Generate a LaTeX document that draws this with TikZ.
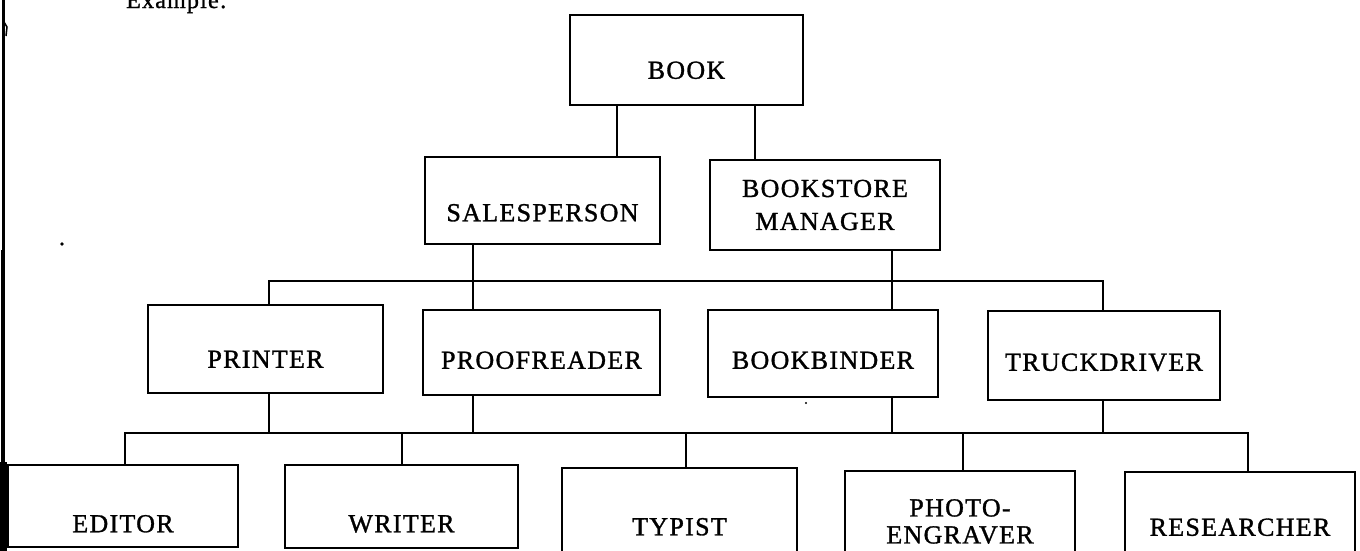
\documentclass[tikz,border=0pt]{standalone}
\usepackage{fontspec}
\setmainfont{Liberation Serif}[LetterSpace=5,FakeBold=1.2]
\begin{document}
\begin{tikzpicture}[x=1pt,y=-1pt,
  box/.style={draw, line width=2.6pt, inner sep=0pt, font=\fontsize{26}{33}\selectfont},
  wire/.style={line width=2.5pt}]
\useasboundingbox (0,0) rectangle (1360,550);
% scan edge
\draw[line width=2.5pt] (3.5,-2) -- (3.5,252);
\draw[line width=4pt] (3,250) -- (3,463);
\fill (0,462) rectangle (7,552);
\draw[line width=1.5pt] (4,22) -- (7,27) -- (6,36);
\fill (62,244) circle (1.8);
\fill (806,403) circle (1.2);
% partial heading
\node[anchor=base west, inner sep=0pt, font=\fontsize{24}{28}\selectfont] (ex) at (126,8) {Example:};
% boxes
\node[box, minimum width=233pt, minimum height=90pt, text height=37.5pt, text depth=0pt] (book) at (686.5,60) {BOOK};
\node[box, minimum width=235pt, minimum height=87pt, text height=41.5pt, text depth=0pt] (sales) at (542.5,200.5) {SALESPERSON};
\node[box, minimum width=230pt, minimum height=90pt, align=center] (bsm) at (825,205) {BOOKSTORE\\MANAGER};
\node[box, minimum width=235pt, minimum height=88pt, text height=37.5pt, text depth=0pt] (printer) at (265.5,349) {PRINTER};
\node[box, minimum width=237pt, minimum height=85pt, text height=32.5pt, text depth=0pt] (proof) at (541.5,352.5) {PROOFREADER};
\node[box, minimum width=230pt, minimum height=87pt, text height=30.5pt, text depth=0pt] (binder) at (823,353.5) {BOOKBINDER};
\node[box, minimum width=232pt, minimum height=89pt, text height=30.5pt, text depth=0pt] (truck) at (1104,355.5) {TRUCKDRIVER};
\node[box, minimum width=230pt, minimum height=82pt, text height=52.5pt, text depth=0pt] (editor) at (123,506) {EDITOR};
\node[box, minimum width=233pt, minimum height=83pt, text height=51.5pt, text depth=0pt] (writer) at (401.5,506.5) {WRITER};
\node[box, minimum width=235pt, minimum height=84pt, text height=50.5pt, text depth=0pt] (typist) at (679.5,510) {TYPIST};
\node[box, minimum width=230pt, minimum height=101pt, align=center, font=\fontsize{26}{27}\selectfont] (photo) at (960,521.5) {PHOTO-\\ENGRAVER};
\node[box, minimum width=230pt, minimum height=84pt, text height=43.5pt, text depth=0pt] (research) at (1240,514) {RESEARCHER};
% guide coordinates
\coordinate (xa) at (617,0);
\coordinate (xb) at (755,0);
\coordinate (xc) at (473,0);
\coordinate (xd) at (892,0);
\coordinate (xe) at (269,0);
\coordinate (xf) at (1103,0);
\coordinate (xg) at (125,0);
\coordinate (xh) at (402,0);
\coordinate (xi) at (686,0);
\coordinate (xj) at (963,0);
\coordinate (xk) at (1248,0);
\coordinate (b1) at (0,281);
\coordinate (b2) at (0,433);
% connectors
\draw[wire] (book.south -| xa) -- (sales.north -| xa);
\draw[wire] (book.south -| xb) -- (bsm.north -| xb);
\draw[wire] (sales.south -| xc) -- (proof.north -| xc);
\draw[wire] (bsm.south -| xd) -- (binder.north -| xd);
\draw[wire] (printer.north -| xe) -- (xe |- b1) -- (xf |- b1) -- (truck.north -| xf);
\draw[wire] (printer.south -| xe) -- (xe |- b2);
\draw[wire] (proof.south -| xc) -- (xc |- b2);
\draw[wire] (binder.south -| xd) -- (xd |- b2);
\draw[wire] (truck.south -| xf) -- (xf |- b2);
\draw[wire] (editor.north -| xg) -- (xg |- b2) -- (xk |- b2) -- (research.north -| xk);
\draw[wire] (writer.north -| xh) -- (xh |- b2);
\draw[wire] (typist.north -| xi) -- (xi |- b2);
\draw[wire] (photo.north -| xj) -- (xj |- b2);
\end{tikzpicture}
\end{document}
